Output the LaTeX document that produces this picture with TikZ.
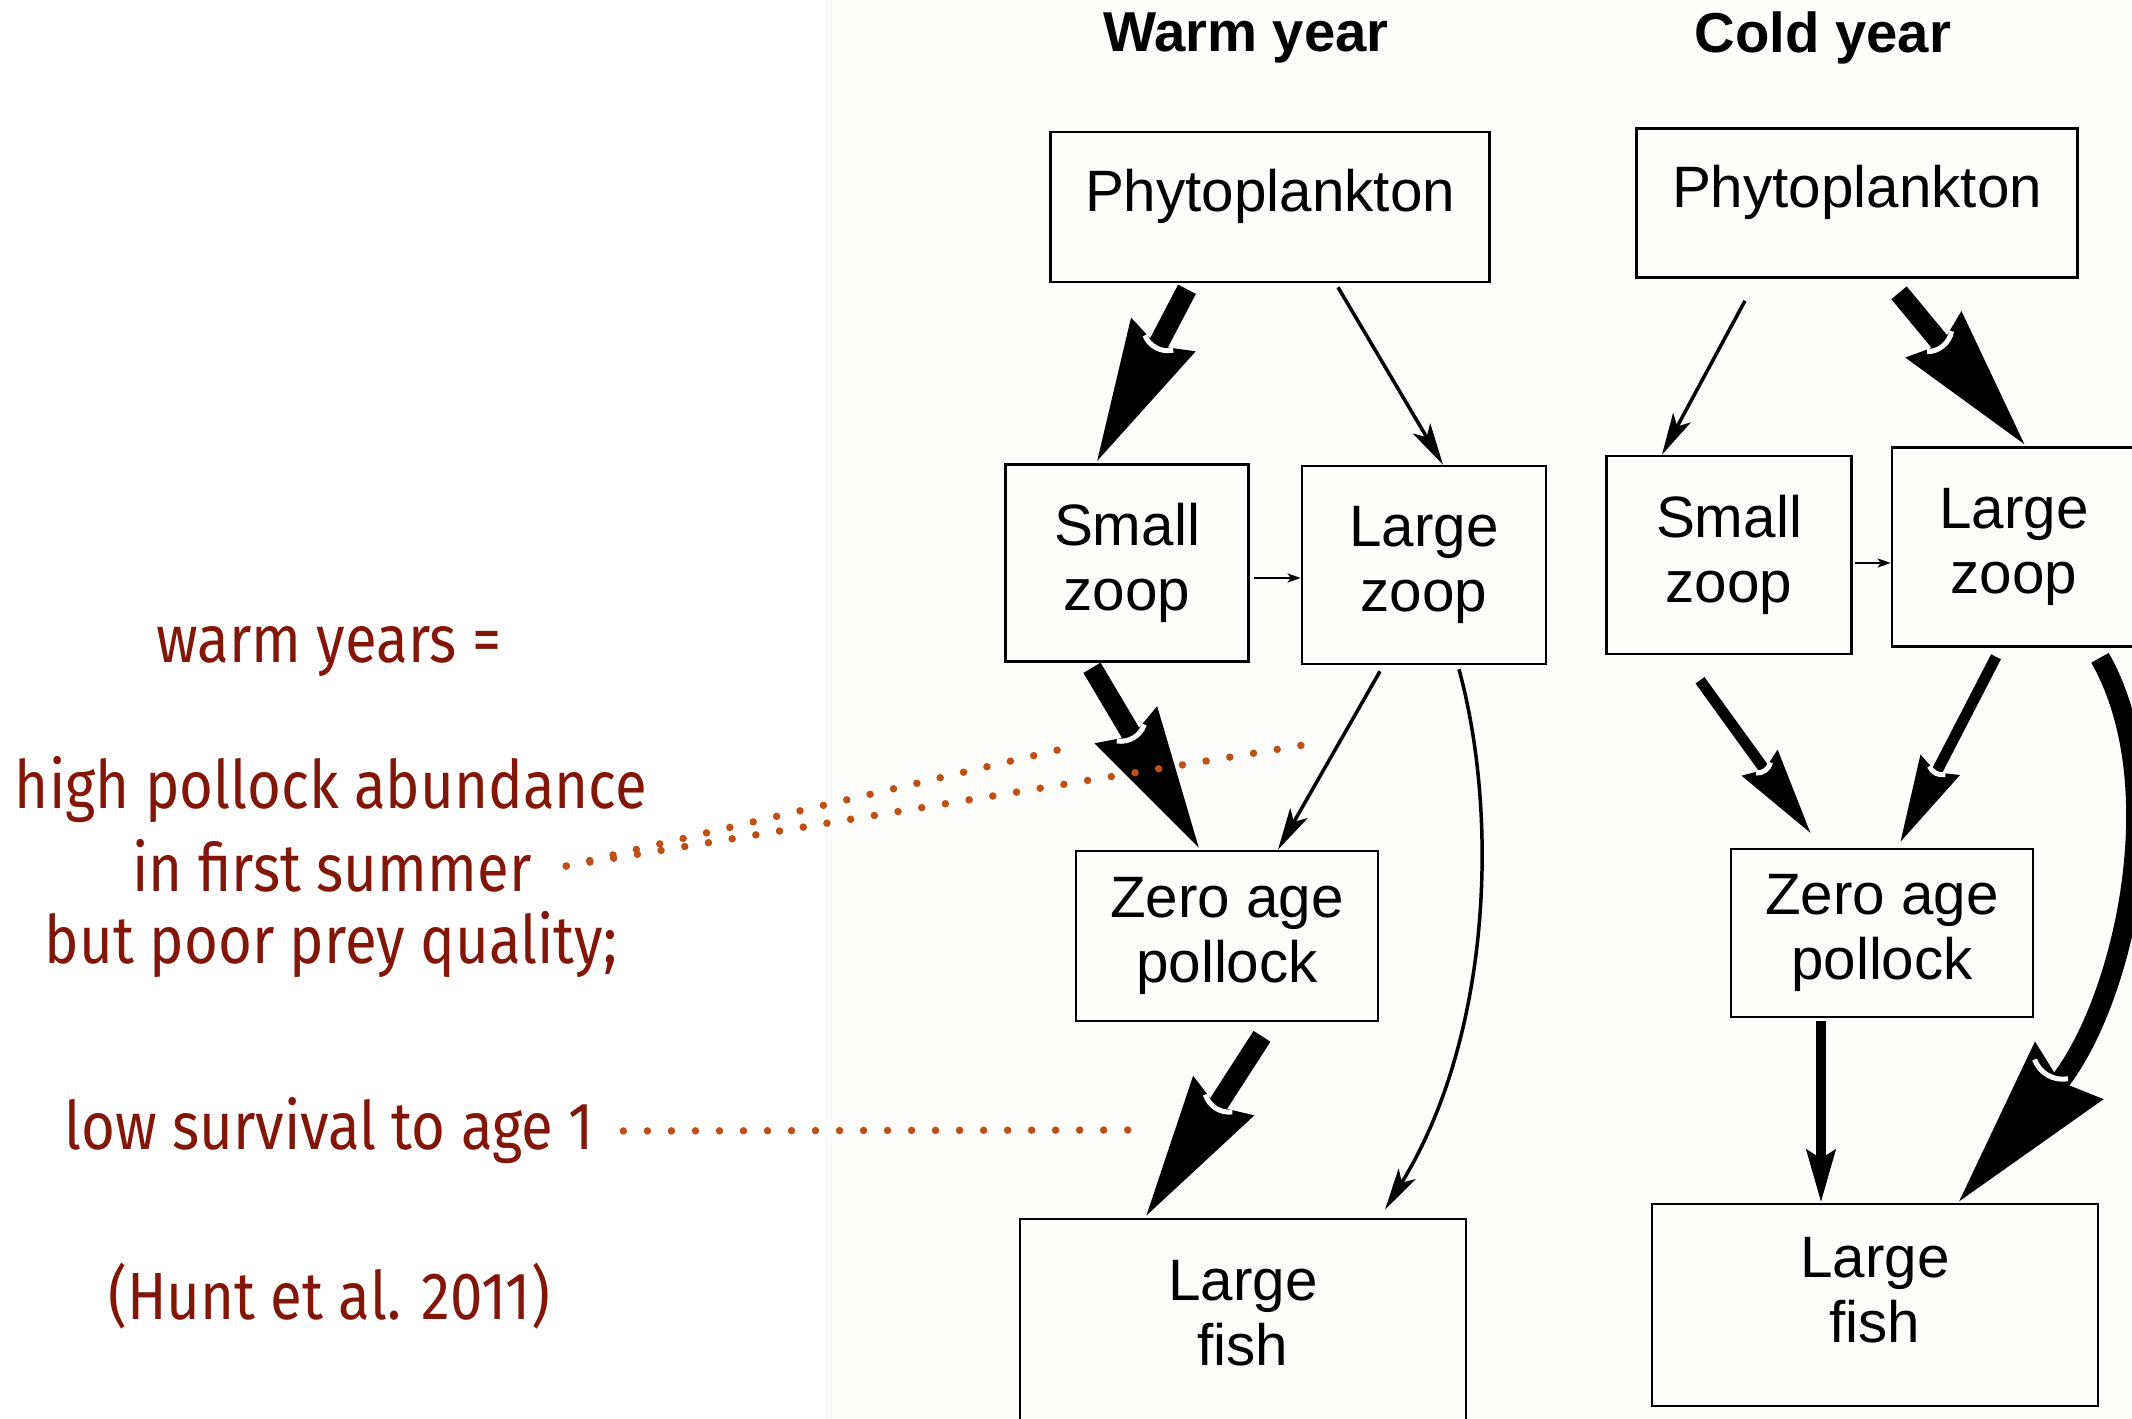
\documentclass[tikz,border=0pt]{standalone}
\usepackage{fontspec}
\setmainfont{Liberation Sans}
\newfontfamily\notefont[FakeStretch=0.87]{Fira Sans}
\usepackage{xcolor}
\usepackage{tikz}
\usetikzlibrary{positioning, arrows.meta, calc, decorations.markings}

\definecolor{notered}{RGB}{130,22,8}
\definecolor{dotbrown}{RGB}{190,80,20}
\definecolor{paper}{RGB}{252,252,250}

\tikzset{
    box/.style={draw, line width=0.025cm, align=center, inner sep=0pt,
        font=\fontsize{16.6}{18.4}\selectfont},
    title/.style={font=\bfseries\fontsize{16}{18}\selectfont},
    note/.style={text=notered, inner sep=0pt, font=\notefont\fontsize{19}{22}\selectfont},
    dotline/.style={dotbrown, line width=0.075cm, line cap=round, dash pattern=on 0pt off 0.24cm},
    headgap/.style 2 args={postaction={decorate}, decoration={markings,
        mark=at position -#1 with {\draw[-, white, line width=0.05cm] (-#2,0) ++(-40:#2) arc[start angle=-40, end angle=40, radius=#2];}}},
    thickflow/.style={line width=0.2cm, -{Stealth[length=1.42cm, width=0.68cm, inset=0.1cm]}, headgap={1.3cm}{0.25cm}},
    heavyflow/.style={line width=0.2cm, -{Stealth[length=1.7cm, width=0.85cm, inset=0.12cm]}, headgap={1.56cm}{0.3cm}},
    midflow/.style={line width=0.11cm, -{Stealth[length=0.86cm, width=0.42cm, inset=0.07cm]}, headgap={0.78cm}{0.14cm}},
    smallflow/.style={line width=0.1cm, -{Stealth[length=0.52cm, width=0.28cm, inset=0.08cm]}},
    thinflow/.style={line width=0.035cm, -{Stealth[length=0.42cm, width=0.2cm, inset=0.1cm]}},
    tinyflow/.style={line width=0.02cm, -{Stealth[length=0.13cm, width=0.09cm, inset=0.03cm]}}
}

\begin{document}
\begin{tikzpicture}[x=0.01cm, y=-0.01cm]
    \useasboundingbox (0,0) rectangle (2132,1419);
    \fill[paper] (825,0) rectangle (2132,1419);

    % left notes
    \node[note] (warm) at (329,652) {warm years =};
    \node[note] (abund) at (331,790) {high pollock abundance};
    \node[note] (summer) at (332,866) {in first summer};
    \node[note] (prey) at (331,945) {but poor prey quality;};
    \node[note] (surv) at (329,1131) {low survival to age 1};
    \node[note] (cite) at (329,1296) {(Hunt et al. 2011)};

    % warm year web
    \node[title] (wtitle) at (1246,38) {Warm year};
    \node[box, minimum width=4.39cm, minimum height=1.5cm, text depth=0.33cm] (wphy) at (1270,207) {Phytoplankton};
    \node[box, minimum width=2.43cm, minimum height=1.97cm] (wsz) at (1127,563) {Small\\zoop};
    \node[box, minimum width=2.44cm, minimum height=1.98cm] (wlz) at (1424,565) {Large\\zoop};
    \node[box, minimum width=3.02cm, minimum height=1.7cm] (wzp) at (1227,936) {Zero age\\pollock};
    \node[box, minimum width=4.46cm, minimum height=2.1cm, text depth=0.22cm] (wlf) at (1243,1324) {Large\\fish};

    % cold year web
    \node[title] (ctitle) at (1823,38) {Cold year};
    \node[box, minimum width=4.41cm, minimum height=1.49cm, text depth=0.33cm] (cphy) at (1857,203) {Phytoplankton};
    \node[box, minimum width=2.45cm, minimum height=1.98cm] (csz) at (1729,555) {Small\\zoop};
    \node[box, minimum width=2.44cm, minimum height=1.99cm] (clz) at (2014,547) {Large\\zoop};
    \node[box, minimum width=3.02cm, minimum height=1.68cm] (czp) at (1882,933) {Zero age\\pollock};
    \node[box, minimum width=4.46cm, minimum height=2.02cm, text depth=0.3cm] (clf) at (1875,1305) {Large\\fish};

    % warm flows
    \draw[thickflow] ($(wphy.south)+(-83,6)$) -- ($(wsz.north)+(-31,0)$);
    \draw[thinflow] ($(wphy.south)+(68,4)$) -- ($(wlz.north)+(19,0)$);
    \draw[tinyflow] ($(wsz.east)+(4,15)$) -- ($(wlz.west)+(0,13)$);
    \draw[thickflow] ($(wsz.south)+(-35,5)$) -- ($(wzp.north)+(-27,0)$);
    \draw[thinflow] ($(wlz.south)+(-44,6)$) -- ($(wzp.north)+(51,0)$);
    \draw[thinflow] ($(wlz.south)+(35,4)$) .. controls (1500,820) and (1490,1040) .. ($(wlf.north)+(142,-8)$);
    \draw[thickflow] ($(wzp.south)+(35,14)$) -- ($(wlf.north)+(-98,0)$);

    % cold flows
    \draw[thinflow] ($(cphy.south)+(-112,22)$) -- ($(csz.north)+(-67,0)$);
    \draw[thickflow] ($(cphy.south)+(42,14)$) -- ($(clz.north)+(12,0)$);
    \draw[tinyflow] ($(csz.east)+(2,8)$) -- ($(clz.west)+(0,16)$);
    \draw[midflow] ($(csz.south)+(-29,25)$) -- ($(czp.north)+(-71,-14)$);
    \draw[midflow] ($(clz.south)+(-18,9)$) -- ($(czp.north)+(18,-5)$);
    \draw[smallflow] ($(czp.south)+(-61,3)$) -- ($(clf.north)+(-54,0)$);
    \draw[heavyflow] ($(clz.south)+(86,10)$) .. controls (2175,790) and (2120,1010) .. ($(clf.north)+(83,0)$);

    % pointers from the notes
    \coordinate (dotA) at (1079,745);
    \coordinate (dotB) at (1322,742);
    \coordinate (dotC) at (1132,1130);
    \draw[dotline] ($(summer.east)+(34,0)$) -- (dotA);
    \draw[dotline] ($(summer.east)+(34,0)$) -- (dotB);
    \draw[dotline] ($(surv.east)+(29,0)$) -- (dotC);
\end{tikzpicture}
\end{document}
